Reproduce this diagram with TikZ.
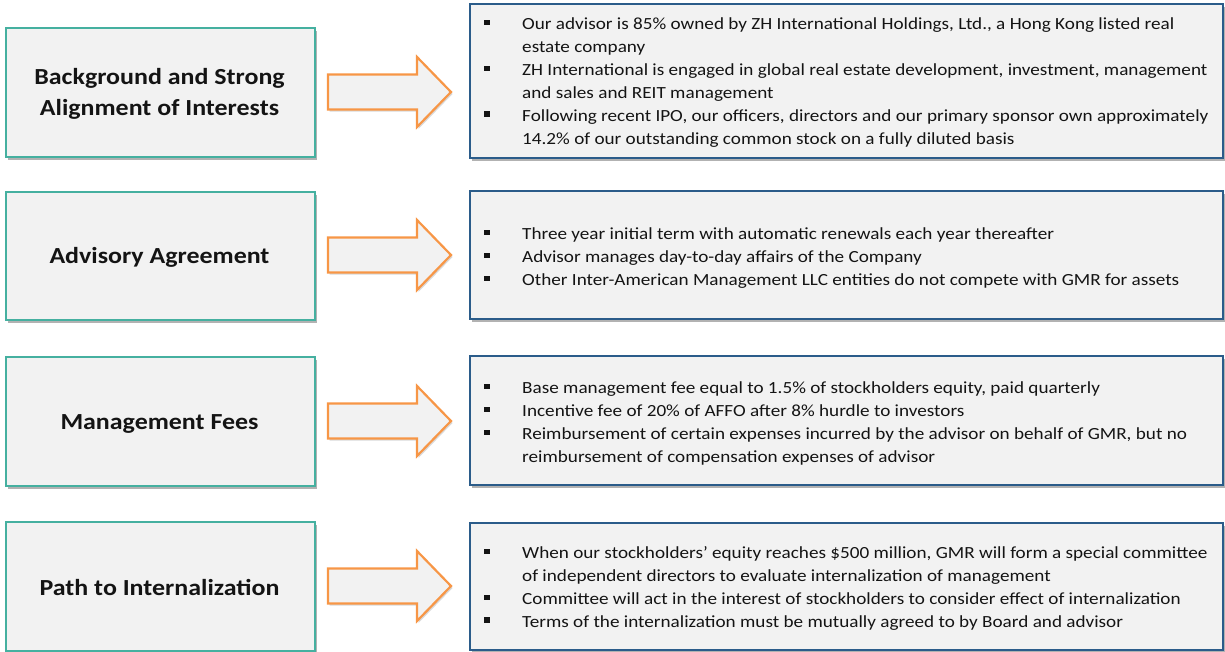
\documentclass[tikz,border=0pt]{standalone}
\usepackage{fontspec}
\setmainfont[FakeStretch=1.128]{Carlito}
\usetikzlibrary{shadows}
\definecolor{tealb}{HTML}{45B0A0}
\definecolor{blueb}{HTML}{2B5C8A}
\definecolor{orangeb}{HTML}{F79646}
\definecolor{boxfill}{HTML}{F2F2F2}
\definecolor{txt}{HTML}{141414}
\newcommand{\blt}{\rule[4.2pt]{5.6pt}{5.6pt}}
\newcommand{\blockarrow}[2]{%
  \draw[blockarr] (328,#1-17.5) -- (417,#1-17.5) -- (417,#1-35) -- (451,#1)
    -- (417,#1+35) -- (417,#1+17.5) -- (328,#1+17.5) -- cycle;
  \coordinate (#2) at (451,#1);}
\begin{document}
\begin{tikzpicture}[x=1pt,y=-1pt,
  leftbox/.style={draw=tealb,line width=2.4pt,fill=boxfill,inner sep=0,anchor=north west,
    drop shadow={shadow xshift=2pt,shadow yshift=-3pt,fill=black,opacity=0.3}},
  rightbox/.style={draw=blueb,line width=2.4pt,fill=boxfill,inner sep=0,anchor=north west,
    drop shadow={shadow xshift=2pt,shadow yshift=-3pt,fill=black,opacity=0.3}},
  blockarr/.style={draw=orangeb,line width=2.2pt,fill=boxfill,line join=miter,
    drop shadow={shadow xshift=1.5pt,shadow yshift=-2pt,fill=black,opacity=0.15}},
  titletext/.style={font=\fontsize{23}{30.7}\selectfont\bfseries,text=txt,align=center,inner sep=0,anchor=north},
  bullettext/.style={font=\fontsize{17}{22.9}\selectfont,text=txt,inner sep=0,anchor=north west}]
\useasboundingbox (0,0) rectangle (1225,651);

% left boxes
\node[leftbox,minimum width=309,minimum height=129] (L1) at (5,27) {};
\node[leftbox,minimum width=309,minimum height=128] (L2) at (5,191) {};
\node[leftbox,minimum width=309,minimum height=129] (L3) at (5,356) {};
\node[leftbox,minimum width=309,minimum height=129] (L4) at (5,521) {};

% right boxes
\node[rightbox,minimum width=753,minimum height=154] (R1) at (469,3) {};
\node[rightbox,minimum width=753,minimum height=128] (R2) at (469,190) {};
\node[rightbox,minimum width=753,minimum height=129] (R3) at (469,355) {};
\node[rightbox,minimum width=753,minimum height=127] (R4) at (469,522) {};

% titles
\node[titletext] (T1) at (159.5,84.3-21.5) {\strut Background and Strong\\Alignment of Interests};
\node[titletext] (T2) at (159.5,263.3-21.5) {\strut Advisory Agreement};
\node[titletext] (T3) at (159.5,429.3-21.5) {\strut Management Fees};
\node[titletext] (T4) at (159.5,595-21.5) {\strut Path to Internalization};

% arrows
\blockarrow{92}{A1}
\blockarrow{255}{A2}
\blockarrow{421}{A3}
\blockarrow{586}{A4}

% bullet texts
\node[bullettext] (B1) at (484,29.3-16.03) {%
\begin{tabular}{@{}p{38pt}@{}l@{}}
\blt & Our advisor is 85\% owned by ZH International Holdings, Ltd., a Hong Kong listed real\\
 & estate company\\
\blt & ZH International is engaged in global real estate development, investment, management\\
 & and sales and REIT management\\
\blt & Following recent IPO, our officers, directors and our primary sponsor own approximately\\
 & 14.2\% of our outstanding common stock on a fully diluted basis
\end{tabular}};
\node[bullettext] (B2) at (484,239.3-16.03) {%
\begin{tabular}{@{}p{38pt}@{}l@{}}
\blt & Three year initial term with automatic renewals each year thereafter\\
\blt & Advisor manages day-to-day affairs of the Company\\
\blt & Other Inter-American Management LLC entities do not compete with GMR for assets
\end{tabular}};
\node[bullettext] (B3) at (484,393.3-16.03) {%
\begin{tabular}{@{}p{38pt}@{}l@{}}
\blt & Base management fee equal to 1.5\% of stockholders equity, paid quarterly\\
\blt & Incentive fee of 20\% of AFFO after 8\% hurdle to investors\\
\blt & Reimbursement of certain expenses incurred by the advisor on behalf of GMR, but no\\
 & reimbursement of compensation expenses of advisor
\end{tabular}};
\node[bullettext] (B4) at (484,558.3-16.03) {%
\begin{tabular}{@{}p{38pt}@{}l@{}}
\blt & When our stockholders’ equity reaches \$500 million, GMR will form a special committee\\
 & of independent directors to evaluate internalization of management\\
\blt & Committee will act in the interest of stockholders to consider effect of internalization\\
\blt & Terms of the internalization must be mutually agreed to by Board and advisor
\end{tabular}};
\end{tikzpicture}
\end{document}
